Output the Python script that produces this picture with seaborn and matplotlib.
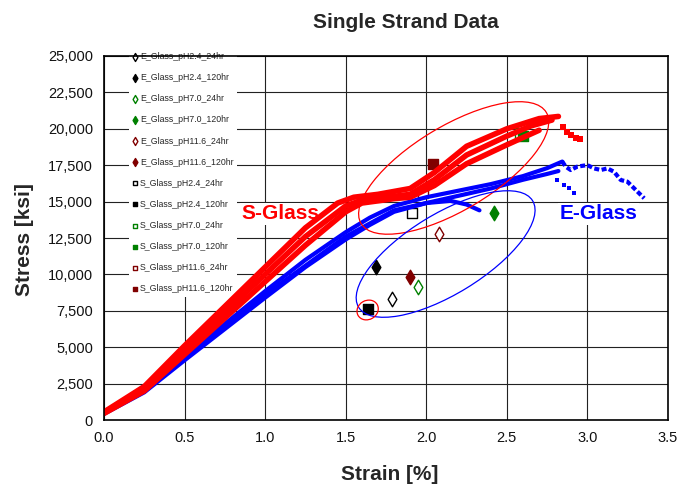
import numpy as np
import pandas as pd
import seaborn as sns
import matplotlib.pyplot as plt
import matplotlib.transforms as transforms
from matplotlib.patches import Ellipse
from matplotlib.ticker import StrMethodFormatter

# single point results (aged strands)
point_labels = ["E_Glass_pH2.4_24hr", "E_Glass_pH2.4_120hr", "E_Glass_pH7.0_24hr",
                "E_Glass_pH7.0_120hr", "E_Glass_pH11.6_24hr", "E_Glass_pH11.6_120hr",
                "S_Glass_pH2.4_24hr", "S_Glass_pH2.4_120hr", "S_Glass_pH7.0_24hr",
                "S_Glass_pH7.0_120hr", "S_Glass_pH11.6_24hr", "S_Glass_pH11.6_120hr"]
point_strain = [1.79, 1.69, 1.95, 2.42, 2.08, 1.90, 1.91, 1.64, 2.58, 2.60, 1.98, 2.04]
point_stress = [8300, 10500, 9150, 14250, 12800, 9850, 14200, 7600, 19700, 19500, 15600, 17600]

# S-Glass stress-strain curves (unaged specimens)
s1_strain = [0.0, 0.25, 0.5, 0.75, 1.0, 1.25, 1.45, 1.55, 1.7, 1.9, 2.05, 2.25, 2.5, 2.7, 2.82]
s1_stress = [550, 2300, 5100, 7800, 10500, 13200, 14900, 15300, 15500, 15900, 17000, 18800, 20000, 20700, 20850]
s2_strain = [0.0, 0.25, 0.5, 0.75, 1.0, 1.25, 1.5, 1.6, 1.75, 1.9, 2.05, 2.25, 2.5, 2.65, 2.78]
s2_stress = [500, 2150, 4800, 7400, 10000, 12600, 14700, 15100, 15300, 15500, 16500, 18200, 19500, 20200, 20600]
s3_strain = [0.0, 0.25, 0.5, 0.75, 1.0, 1.25, 1.5, 1.6, 1.8, 1.9, 2.05, 2.25, 2.5, 2.7]
s3_stress = [450, 2000, 4500, 7000, 9500, 12000, 14300, 14900, 15200, 15300, 16100, 17600, 18900, 19900]
s_tail_strain = [2.85, 2.875, 2.90, 2.93, 2.956]
s_tail_stress = [20150, 19800, 19575, 19400, 19280]

# E-Glass stress-strain curves
e1_strain = [0.0, 0.25, 0.5, 0.75, 1.0, 1.25, 1.5, 1.65, 1.8, 2.0, 2.2, 2.4, 2.6, 2.75, 2.844]
e1_stress = [480, 2050, 4350, 6600, 8850, 11000, 12900, 13900, 14700, 15300, 15750, 16200, 16750, 17300, 17750]
e2_strain = [0.0, 0.25, 0.5, 0.75, 1.0, 1.25, 1.5, 1.65, 1.8, 2.0, 2.2, 2.4, 2.6, 2.75, 2.82]
e2_stress = [420, 1900, 4100, 6250, 8400, 10500, 12400, 13400, 14300, 14900, 15400, 15900, 16500, 16900, 17100]
e3_strain = [0.0, 0.5, 1.0, 1.5, 1.8, 2.0, 2.15, 2.25, 2.33]
e3_stress = [450, 4200, 8600, 12600, 14400, 14900, 15050, 14800, 14400]
e_tail_strain = [2.844, 2.865, 2.896, 2.937, 2.999, 3.041, 3.083, 3.124, 3.165, 3.207, 3.248, 3.29, 3.321, 3.352]
e_tail_stress = [17750, 17400, 17170, 17400, 17510, 17280, 17170, 17280, 17050, 16480, 16370, 15910, 15570, 15230]
e_drop_strain = [2.813, 2.855, 2.886, 2.917]
e_drop_stress = [16480, 16140, 15910, 15570]

pts = pd.DataFrame({'label': point_labels, 'strain': point_strain, 'stress': point_stress})

sns.set_theme(style="whitegrid")
plt.rcParams['font.family'] = ['Liberation Sans', 'DejaVu Sans']

fig = plt.figure(figsize=(6.87, 4.87), dpi=100)
ax = fig.add_axes([104/687, 1-420/487, 564/687, 364/487])

# marker styles for the 12 point series
ph_colors = {'pH2.4': 'black', 'pH7.0': '#008000', 'pH11.6': '#800000'}
for _, r in pts.iterrows():
    parts = r['label'].split('_')
    glass, ph, hr = parts[0], parts[2], parts[3]
    c = ph_colors[ph]
    filled = hr == '120hr'
    mk = 'd' if glass == 'E' else 's'
    sns.scatterplot(x=[r['strain']], y=[r['stress']], ax=ax, marker=mk,
                    s=55 if mk == 'd' else 42, color=c if filled else 'white',
                    edgecolor=c, linewidth=1.0, label=r['label'], zorder=2)

# E-Glass curves
for xs, ys in [(e1_strain, e1_stress), (e2_strain, e2_stress), (e3_strain, e3_stress)]:
    sns.lineplot(x=xs, y=ys, ax=ax, color='#0000ff', lw=3, sort=False,
                 estimator=None, zorder=8)
sns.lineplot(x=e_tail_strain, y=e_tail_stress, ax=ax, color='#0000ff', lw=3,
             sort=False, estimator=None, zorder=8, linestyle=(0, (1.2, 0.6)))
sns.scatterplot(x=e_drop_strain, y=e_drop_stress, ax=ax, color='#0000ff', marker='s',
                s=12, linewidth=0, zorder=8)

# S-Glass curves
for xs, ys in [(s1_strain, s1_stress), (s2_strain, s2_stress), (s3_strain, s3_stress)]:
    sns.lineplot(x=xs, y=ys, ax=ax, color='#ff0000', lw=4, sort=False,
                 estimator=None, zorder=9)
sns.scatterplot(x=s_tail_strain, y=s_tail_stress, ax=ax, color='#ff0000', marker='s',
                s=22, linewidth=0, zorder=9)


def ring(cx, cy, w, h, ang, color):
    tr = fig.dpi_scale_trans + transforms.ScaledTranslation(cx, cy, ax.transData)
    ax.add_patch(Ellipse((0, 0), w, h, angle=ang, transform=tr, fill=False,
                         edgecolor=color, lw=0.9, zorder=10))


ring(2.17, 17310, 2.16, 0.84, 31, '#ff0000')
ring(2.12, 11400, 2.04, 0.80, 31.5, '#0000ff')
ring(1.636, 7555, 0.22, 0.19, 30, '#ff0000')

ax.text(1.094, 14150, 'S-Glass', color='#ff0000', fontsize=15, fontweight='bold',
        ha='center', va='center', zorder=7,
        bbox=dict(facecolor='white', edgecolor='none', pad=1))
ax.text(3.07, 14150, 'E-Glass', color='#0000ff', fontsize=15, fontweight='bold',
        ha='center', va='center', zorder=7,
        bbox=dict(facecolor='white', edgecolor='none', pad=1))

ax.set_xlim(0, 3.5)
ax.set_ylim(0, 25000)
ax.set_xticks(np.arange(0, 3.51, 0.5))
ax.set_yticks(np.arange(0, 25001, 2500))
ax.xaxis.set_major_formatter(StrMethodFormatter('{x:.1f}'))
ax.yaxis.set_major_formatter(StrMethodFormatter('{x:,.0f}'))
ax.grid(True, color='#222222', lw=0.8)
ax.set_facecolor('white')
for sp in ax.spines.values():
    sp.set_color('black')
    sp.set_linewidth(1.2)
    sp.set_zorder(11)
ax.tick_params(axis='both', which='major', labelsize=10.5, length=3, width=1,
               direction='out', color='black', pad=5, labelcolor='#111111')
ax.set_xlabel('')
ax.set_ylabel('')

handles, labels = ax.get_legend_handles_labels()
leg = ax.legend(handles, labels, loc='upper left', bbox_to_anchor=(0.036, 1.032),
                fontsize=6.3, markerscale=0.55, handlelength=0.6, handletextpad=0.3,
                labelspacing=1.38, borderpad=0.4, frameon=True, fancybox=False,
                facecolor='white', edgecolor='none', framealpha=1)
leg.set_zorder(6)

fig.text(406/687, 1-28/487, 'Single Strand Data', fontsize=15, fontweight='bold',
         ha='center', va='baseline')
fig.text(390/687, 1-480/487, 'Strain [%]', fontsize=15, fontweight='bold',
         ha='center', va='baseline')
fig.text(24/687, 1-240/487, 'Stress [ksi]', fontsize=15, fontweight='bold',
         ha='center', va='center', rotation=90)

fig.savefig('out.png', dpi=100, facecolor='white')
